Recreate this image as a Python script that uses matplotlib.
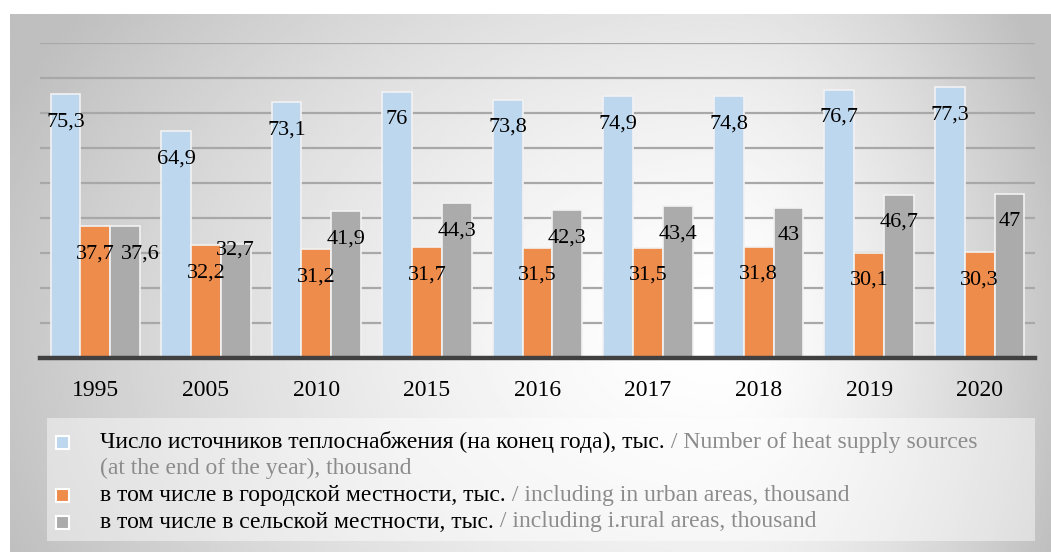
import numpy as np
import matplotlib
matplotlib.use("Agg")
import matplotlib.pyplot as plt
from matplotlib.patches import Rectangle

# Data: heat supply sources, thousand
years = ["1995", "2005", "2010", "2015", "2016", "2017", "2018", "2019", "2020"]
total = [75.3, 64.9, 73.1, 76.0, 73.8, 74.9, 74.8, 76.7, 77.3]
urban = [37.7, 32.2, 31.2, 31.7, 31.5, 31.5, 31.8, 30.1, 30.3]
rural = [37.6, 32.7, 41.9, 44.3, 42.3, 43.4, 43.0, 46.7, 47.0]

legend_ru = [
    "Число источников теплоснабжения (на конец года), тыс.",
    "в том числе в городской местности, тыс.",
    "в том числе в сельской местности, тыс.",
]
legend_en = [
    " / Number of heat supply sources",
    " / including in urban areas, thousand",
    " / including i.rural areas, thousand",
]
legend_en_wrap = "(at the end of the year), thousand"

colors = ["#BDD7EE", "#EE8C4C", "#ABABAB"]
SERIF = ["Liberation Serif", "DejaVu Serif"]

W, H = 1051, 552
fig = plt.figure(figsize=(W / 100, H / 100), dpi=100)
fig.patch.set_facecolor("white")

# Gradient backdrop panel (light centre, grey edges)
bg = fig.add_axes([10 / W, 0, 1 - 10 / W, (H - 14) / H], zorder=-10)
gx, gy = np.meshgrid(np.linspace(10, W, 420), np.linspace(14, H, 240))
cx, cy0 = 720, 330
rx = np.where(gx < cx, 710, 330)
d = np.sqrt(((gx - cx) / rx) ** 2 + ((gy - cy0) / 520) ** 2)
shade = 1.0 - 0.22 * np.clip(d, 0, 1.1) ** 1.5
bg.imshow(shade, cmap="gray", vmin=0, vmax=1, aspect="auto",
          extent=[0, 1, 0, 1], origin="upper", interpolation="bilinear")
bg.set_axis_off()

# Bar chart area
left, right, top, base = 40, 1035, 43, 358
ax = fig.add_axes([left / W, (H - base) / H, (right - left) / W, (base - top) / H])
ax.patch.set_alpha(0)
x = np.arange(len(years))
bw = 0.27
series = [total, urban, rural]
for i, (vals, col) in enumerate(zip(series, colors)):
    ax.bar(x + (i - 1) * bw, vals, width=bw, color=col,
           edgecolor="#F2F2F2", linewidth=1.2, zorder=3)

ax.set_xlim(-0.5, len(years) - 0.5)
ax.set_ylim(0, 90)
ax.set_yticks(np.arange(10, 91, 10))
ax.yaxis.grid(True, color="#A8A8A8", linewidth=1.6, zorder=0)
ax.tick_params(axis="y", left=False, labelleft=False)
ax.set_xticks(x)
ax.set_xticklabels(years, fontsize=17, family=SERIF)
ax.tick_params(axis="x", length=0, pad=16)
for s in ["left", "right", "top"]:
    ax.spines[s].set_visible(False)
ax.spines["bottom"].set_color("#404040")
ax.spines["bottom"].set_linewidth(3.2)
ax.spines["bottom"].set_zorder(5)


def fmt(v):
    s = f"{v:.1f}".replace(".", ",")
    return s[:-2] if s.endswith(",0") else s


# Value labels inside the bar tops; two nudged to avoid overlap
nudge = {(2, 0): (11, 0), (2, 1): (0, 15)}
for i, vals in enumerate(series):
    for j, v in enumerate(vals):
        dx, dy = nudge.get((i, j), (0, 0))
        ax.annotate(fmt(v), (x[j] + (i - 1) * bw, v), xytext=(dx, -20 + dy),
                    textcoords="offset points", ha="center", va="center",
                    fontsize=16, family=SERIF, color="black", zorder=6)

# Legend panel
fig.patches.append(Rectangle((47 / W, (H - 541) / H), (1035 - 47) / W, (541 - 418) / H,
                             transform=fig.transFigure, facecolor="white",
                             alpha=0.45, edgecolor="none", zorder=-5))

rows_y = [442, 495, 522]
for k in range(3):
    cy = rows_y[k]
    fig.patches.append(Rectangle((56 / W, (H - cy - 7) / H), 13 / W, 13 / H,
                                 transform=fig.transFigure, facecolor=colors[k],
                                 edgecolor="white", linewidth=1.5, zorder=2))
    t = fig.text(100 / W, (H - cy) / H, legend_ru[k], fontsize=17, family=SERIF,
                 color="black", va="center", ha="left")
    plt.annotate(legend_en[k], xy=(1, 0), xycoords=t, va="bottom", ha="left",
                 fontsize=17, family=SERIF, color="#8C8C8C", annotation_clip=False)
fig.text(100 / W, (H - 468) / H, legend_en_wrap, fontsize=17, family=SERIF,
         color="#8C8C8C", va="center", ha="left")

fig.savefig("out.png", dpi=100)
